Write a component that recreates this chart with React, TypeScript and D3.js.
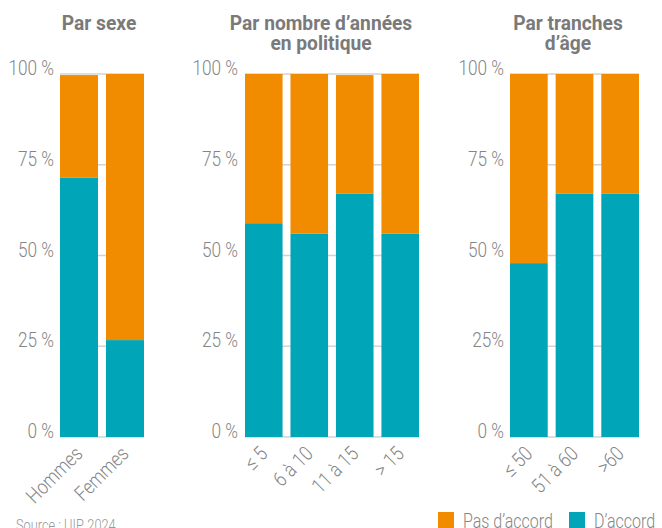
import React from "react";
import * as d3 from "d3";

const sexCategories = ["Hommes", "Femmes"];
const sexAgree = [71.4, 26.7];
const sexDisagree = [28.3, 73.3];

const yearsCategories = ["≤ 5", "6 à 10", "11 à 15", "> 15"];
const yearsAgree = [58.9, 56.0, 67.0, 56.0];
const yearsDisagree = [41.1, 44.0, 32.7, 44.0];

const ageCategories = ["≤ 50", "51 à 60", ">60"];
const ageAgree = [47.9, 67.0, 67.0];
const ageDisagree = [52.1, 33.0, 33.0];

const tickValues = [0, 25, 50, 75, 100];
const tickLabelsA = ["0 %", "25 %", "50 %", "75 %", "100 %"];
const tickLabelsC = ["0 %", "25%", "50 %", "75 %", "100 %"];

const legendLabels = ["Pas d’accord", "D’accord"];
const ORANGE = "#F18B00";
const TEAL = "#00A6B7";
const FONT = "Roboto, 'Liberation Sans', sans-serif";
const SX = 0.84;

const W = 662;
const H = 528;

function CText(props: { x: number; y: number; rot?: number; sx?: number; size: number; anchor?: string; weight?: any; fill: string; children: any }) {
  const { x, y, rot = 0, sx = SX, size, anchor = "start", weight = 300, fill, children } = props;
  return (
    <text
      transform={`translate(${x},${y}) rotate(${rot}) scale(${sx},1)`}
      textAnchor={anchor}
      fontFamily={FONT}
      fontWeight={weight}
      fontSize={size}
      fill={fill}
    >
      {children}
    </text>
  );
}

type PanelProps = {
  cats: string[];
  agree: number[];
  disagree: number[];
  x0: number;
  x1: number;
  labelRight: number;
  tickLabels: string[];
  title: string[];
  titleX: number;
};

const y = d3.scaleLinear().domain([0, 100]).range([437, 74]);

function Panel(p: PanelProps) {
  const x = d3.scaleBand<string>().domain(p.cats).range([p.x0, p.x1]).paddingInner(0.174).paddingOuter(0);
  const stackData = p.cats.map((c, i) => ({ cat: c, agree: p.agree[i], disagree: p.disagree[i] }));
  const series = d3.stack<any>().keys(["agree", "disagree"])(stackData);
  const colors = [TEAL, ORANGE];
  return (
    <g>
      {p.title.map((t, i) => (
        <CText key={i} x={p.titleX} y={30 + i * 20} sx={0.96} anchor="middle" weight="bold" size={20} fill="#7a7a7a">
          {t}
        </CText>
      ))}
      {tickValues.map((v, i) => (
        <g key={v}>
          <line x1={p.x0} x2={p.x1} y1={y(v)} y2={y(v)} stroke="#d3d3d3" strokeWidth={1.5} />
          <CText x={p.labelRight} y={y(v) + 1} anchor="end" size={20.5} fill="#858585">
            {p.tickLabels[i]}
          </CText>
        </g>
      ))}
      {series.map((s, si) =>
        s.map((d, di) => (
          <rect
            key={si + "-" + di}
            x={x(p.cats[di])}
            width={x.bandwidth()}
            y={y(d[1])}
            height={y(d[0]) - y(d[1])}
            fill={colors[si]}
          />
        ))
      )}
      {p.cats.map((c) => {
        const cx = (x(c) as number) + x.bandwidth() / 2 + 5;
        return (
          <CText key={c} x={cx} y={455} rot={-45} anchor="end" size={20.5} fill="#858585">
            {c}
          </CText>
        );
      })}
    </g>
  );
}

export default function App() {
  return (
    <svg width={W} height={H} style={{ position: "absolute", left: 0, top: 0, background: "#fff" }}>
      <Panel cats={sexCategories} agree={sexAgree} disagree={sexDisagree} x0={60} x1={144} labelRight={54} tickLabels={tickLabelsA} title={["Par sexe"]} titleX={99} />
      <Panel cats={yearsCategories} agree={yearsAgree} disagree={yearsDisagree} x0={245} x1={419} labelRight={238} tickLabels={tickLabelsA} title={["Par nombre d’années", "en politique"]} titleX={321} />
      <Panel cats={ageCategories} agree={ageAgree} disagree={ageDisagree} x0={510} x1={639} labelRight={504} tickLabels={tickLabelsC} title={["Par tranches", "d’âge"]} titleX={568} />
      <CText x={16} y={531} size={16} sx={0.8} fill="#999">Source : UIP, 2024</CText>
      {legendLabels.map((l, i) => {
        const lx = [438, 569][i];
        return (
          <g key={l}>
            <rect x={lx} y={512} width={16} height={16} fill={[ORANGE, TEAL][i]} />
            <CText x={lx + 25} y={528} size={20} sx={0.8} fill="#858585">{l}</CText>
          </g>
        );
      })}
    </svg>
  );
}
